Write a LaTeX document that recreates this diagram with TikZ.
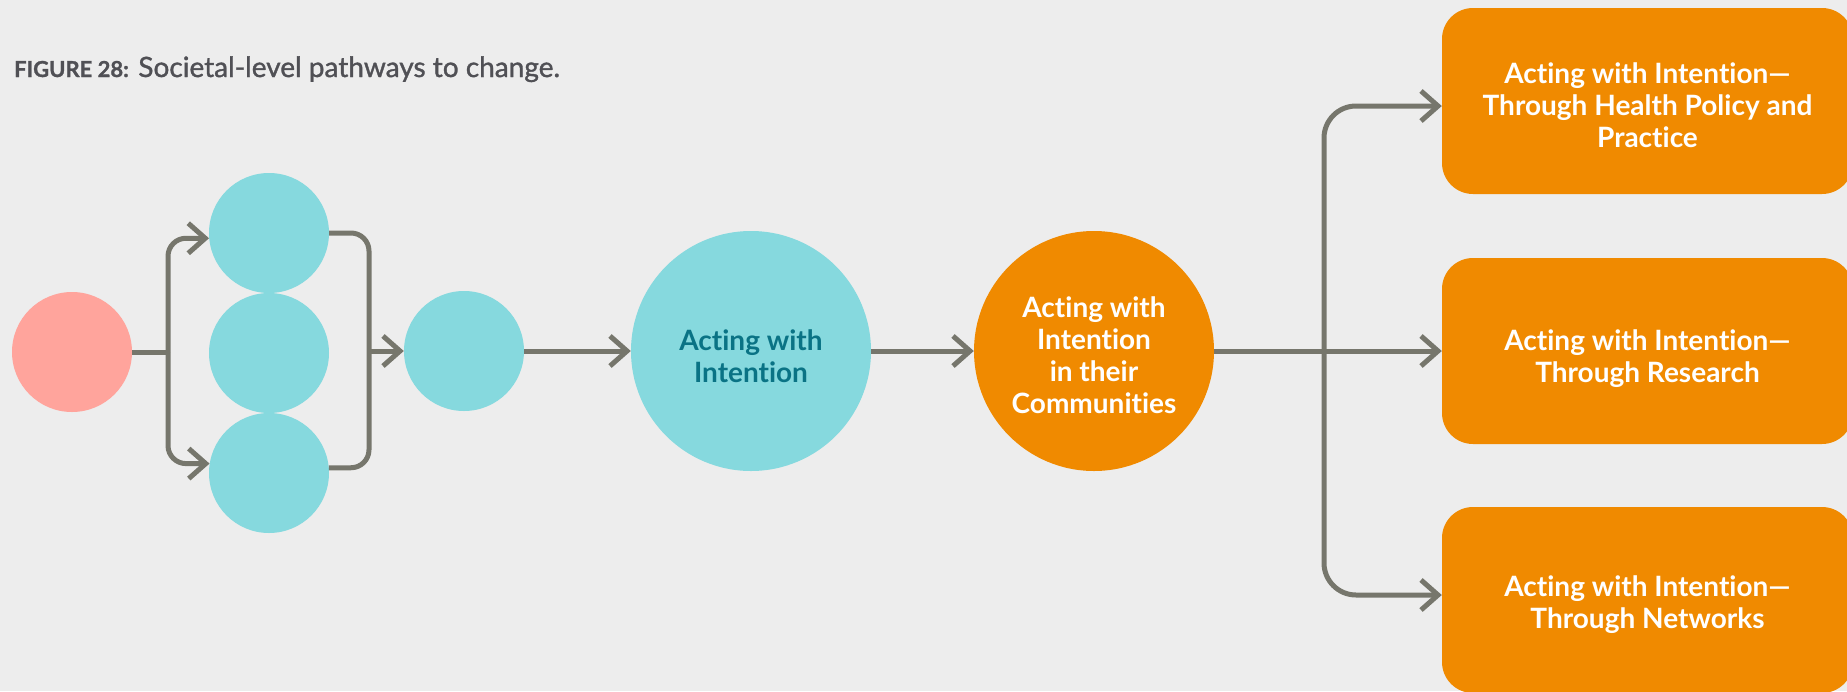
\documentclass[tikz,border=0pt]{standalone}
\usepackage{fontspec}
\setmainfont{Lato}[Ligatures={NoCommon}]
\newfontfamily\capfont{Lato}[Ligatures={NoCommon}, FakeBold=1.2]
\usetikzlibrary{arrows.meta,calc}
\definecolor{bg}{HTML}{EDEDED}
\definecolor{cyanc}{HTML}{86D9DE}
\definecolor{pinkc}{HTML}{FFA49C}
\definecolor{orangec}{HTML}{F08A00}
\definecolor{linec}{HTML}{76766C}
\definecolor{tealt}{HTML}{0A7385}
\definecolor{capgray}{HTML}{505055}
\newcommand\lowtext[2]{\raisebox{#1}[\height][\depth]{\begin{tabular}{@{}c@{}}#2\end{tabular}}}
\tikzset{
  smallc/.style={circle, fill=cyanc, draw=none, minimum size=120pt, inner sep=0pt},
  startc/.style={smallc, fill=pinkc},
  bigc/.style={circle, fill=#1, draw=none, minimum size=240pt, inner sep=0pt, align=center,
    font=\bfseries\fontsize{28}{32}\selectfont},
  outbox/.style={rectangle, rounded corners=31pt, fill=orangec, draw=none,
    minimum width=411pt, minimum height=186pt, inner sep=0pt, align=center, text=white,
    font=\bfseries\fontsize{28}{32}\selectfont},
  conn/.style={draw=linec, line width=5pt},
  arr/.style={conn, -{Straight Barb[length=17pt, width=30pt, line join=miter]}},
}
\begin{document}
\begin{tikzpicture}[x=1pt, y=-1pt]
\useasboundingbox (0,0) rectangle (1847,691);
\fill[bg] (0,0) rectangle (1847,691);

\node[anchor=base west, inner sep=0pt, text=capgray, font=\capfont\fontsize{28}{32}\selectfont] (cap) at (14,77)
  {{\bfseries\fontsize{22}{26}\selectfont FIGURE 28:} Societal-level pathways to change.};

\node[startc] (P) at (72,352) {};
\node[smallc] (C1) at (269,233) {};
\node[smallc] (C2) at (269,353) {};
\node[smallc] (C3) at (269,473) {};
\node[smallc] (C4) at (464,351) {};
\node[bigc=cyanc, text=tealt] (B) at (751,351) {\lowtext{-9pt}{Acting with\\Intention}};
\node[bigc=orangec, text=white] (O) at (1094,351) {\lowtext{-8pt}{Acting with\\Intention\\in their\\Communities}};
\node[outbox] (T) at (1647.5,101) {\lowtext{-8pt}{Acting with Intention—\\Through Health Policy and\\Practice}};
\node[outbox] (M) at (1647.5,351) {\lowtext{-9pt}{Acting with Intention—\\Through Research}};
\node[outbox] (N) at (1647.5,600) {\lowtext{-6pt}{Acting with Intention—\\Through Networks}};

\coordinate (jL) at (168,352);
\coordinate (jR) at (369,351);
\coordinate (jX) at (1324,351);

\draw[conn] (P.east) -- (jL);
\draw[arr, rounded corners=18pt] (jL) |- (C1.185);
\draw[arr, rounded corners=18pt] (jL) |- (C3.171);
\draw[conn, rounded corners=18pt] (C1.east) -| (jR) |- (C3.5);
\draw[arr] (jR) -- (C4.west);
\draw[arr] (C4.east) -- (B.west);
\draw[arr] (B.east) -- (O.west);
\draw[conn] (O.east) -- (jX);
\draw[arr] (jX) -- (M.west);
\draw[arr, rounded corners=32pt] (jX) |- ($(T.west)+(0,5)$);
\draw[arr, rounded corners=32pt] (jX) |- ($(N.west)+(0,-5)$);
\end{tikzpicture}
\end{document}
